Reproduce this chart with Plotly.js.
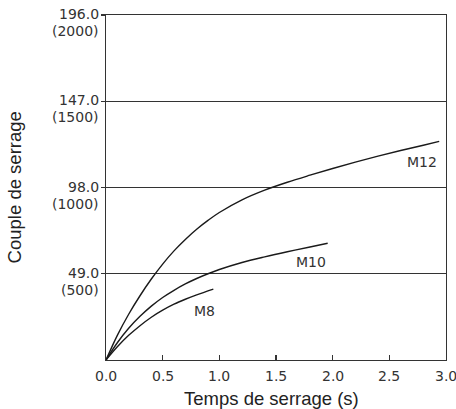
<!DOCTYPE html>
<html>
<head>
<meta charset="utf-8">
<script src="https://cdn.plot.ly/plotly-3.0.1.min.js"></script>
<style>html,body{margin:0;padding:0;background:#fff;}#chart{width:456px;height:409px;}</style>
</head>
<body>
<div id="chart"></div>
<script>
// Data
const m12Time = [0, 0.1, 0.2, 0.3, 0.4, 0.5, 0.6, 0.7, 0.8, 0.9, 1.0, 1.2, 1.4, 1.6, 1.8, 2.0, 2.2, 2.4, 2.6, 2.8, 2.94];
const m12Torque = [0, 14, 26, 36.5, 46, 54.5, 62, 68.5, 74.3, 79.3, 83.8, 91, 96.5, 101, 105, 108.8, 112.4, 115.8, 119, 122, 124.2];
const m10Time = [0, 0.1, 0.2, 0.3, 0.4, 0.5, 0.6, 0.7, 0.8, 0.9, 1.0, 1.2, 1.4, 1.6, 1.8, 1.956];
const m10Torque = [0, 9.8, 18, 24.8, 30.6, 35.5, 39.6, 43.2, 46.3, 49, 51.4, 55.4, 58.6, 61.5, 64.2, 66.3];
const m8Time = [0, 0.1, 0.2, 0.3, 0.4, 0.5, 0.6, 0.7, 0.8, 0.947];
const m8Torque = [0, 7.5, 14, 19.5, 24.3, 28.3, 31.7, 34.5, 37, 40.3];

const yTickVals = [49, 98, 147, 196];
const yTickNm = ["49.0", "98.0", "147.0", "196.0"];
const yTickKgf = ["(500)", "(1000)", "(1500)", "(2000)"];
const xTickVals = [0, 0.5, 1.0, 1.5, 2.0, 2.5, 3.0];
const xTickText = ["0.0", "0.5", "1.0", "1.5", "2.0", "2.5", "3.0"];

const seriesLabels = ["M12", "M10", "M8"];
const labelX = [2.79, 1.81, 0.868];
const labelY = [112.7, 55.9, 27.8];

const xTitle = "Temps de serrage (s)";
const yTitle = "Couple de serrage";

const lineStyle = {color: "#1a1a1a", width: 1.4, shape: "spline", smoothing: 1};
const traces = [
  {x: m12Time, y: m12Torque, mode: "lines", line: lineStyle, name: "M12", hoverinfo: "skip"},
  {x: m10Time, y: m10Torque, mode: "lines", line: lineStyle, name: "M10", hoverinfo: "skip"},
  {x: m8Time, y: m8Torque, mode: "lines", line: lineStyle, name: "M8", hoverinfo: "skip"}
];

const smallFont = {family: "DejaVu Sans, sans-serif", size: 14, color: "#333"};
const titleFont = {family: "Liberation Sans, Arial, sans-serif", size: 18.5, color: "#222"};

const annotations = [];
seriesLabels.forEach((t, i) => annotations.push({
  text: t, x: labelX[i], y: labelY[i], xref: "x", yref: "y", showarrow: false, font: smallFont
}));
yTickVals.forEach((v, i) => {
  annotations.push({text: yTickNm[i], x: 0, y: v, xref: "paper", yref: "y", xanchor: "right", yanchor: "middle",
    xshift: -5, yshift: 1, showarrow: false, font: smallFont});
  annotations.push({text: yTickKgf[i], x: 0, y: v, xref: "paper", yref: "y", xanchor: "right", yanchor: "middle",
    xshift: -5, yshift: -16, showarrow: false, font: smallFont});
});
xTickVals.forEach((v, i) => {
  annotations.push({text: xTickText[i], x: v, y: 0, xref: "x", yref: "paper", xanchor: "center", yanchor: "middle",
    yshift: -16, showarrow: false, font: smallFont});
});
annotations.push({text: xTitle, x: 0.488, y: -0.113, xref: "paper", yref: "paper", xanchor: "center", yanchor: "middle",
  showarrow: false, font: titleFont});
annotations.push({text: yTitle, x: -0.268, y: 0.5, xref: "paper", yref: "paper", xanchor: "center", yanchor: "middle",
  textangle: -90, showarrow: false, font: titleFont});

const layout = {
  width: 456, height: 409,
  margin: {l: 106, r: 10, t: 15, b: 49, pad: 0},
  paper_bgcolor: "#fff", plot_bgcolor: "#fff",
  showlegend: false,
  xaxis: {
    range: [0, 3], tickvals: xTickVals, showticklabels: false,
    ticks: "inside", ticklen: 5, tickcolor: "#333", tickwidth: 1.2,
    showline: true, linecolor: "#333", linewidth: 1.3, mirror: true,
    showgrid: false, zeroline: false
  },
  yaxis: {
    range: [0, 196], tickvals: yTickVals, showticklabels: false,
    ticks: "outside", ticklen: 4, tickcolor: "#333", tickwidth: 1.2,
    showline: true, linecolor: "#333", linewidth: 1.3, mirror: true,
    showgrid: true, gridcolor: "#333", gridwidth: 1.2, zeroline: false
  },
  annotations: annotations
};

Plotly.newPlot("chart", traces, layout, {displayModeBar: false, staticPlot: true});
</script>
</body>
</html>
